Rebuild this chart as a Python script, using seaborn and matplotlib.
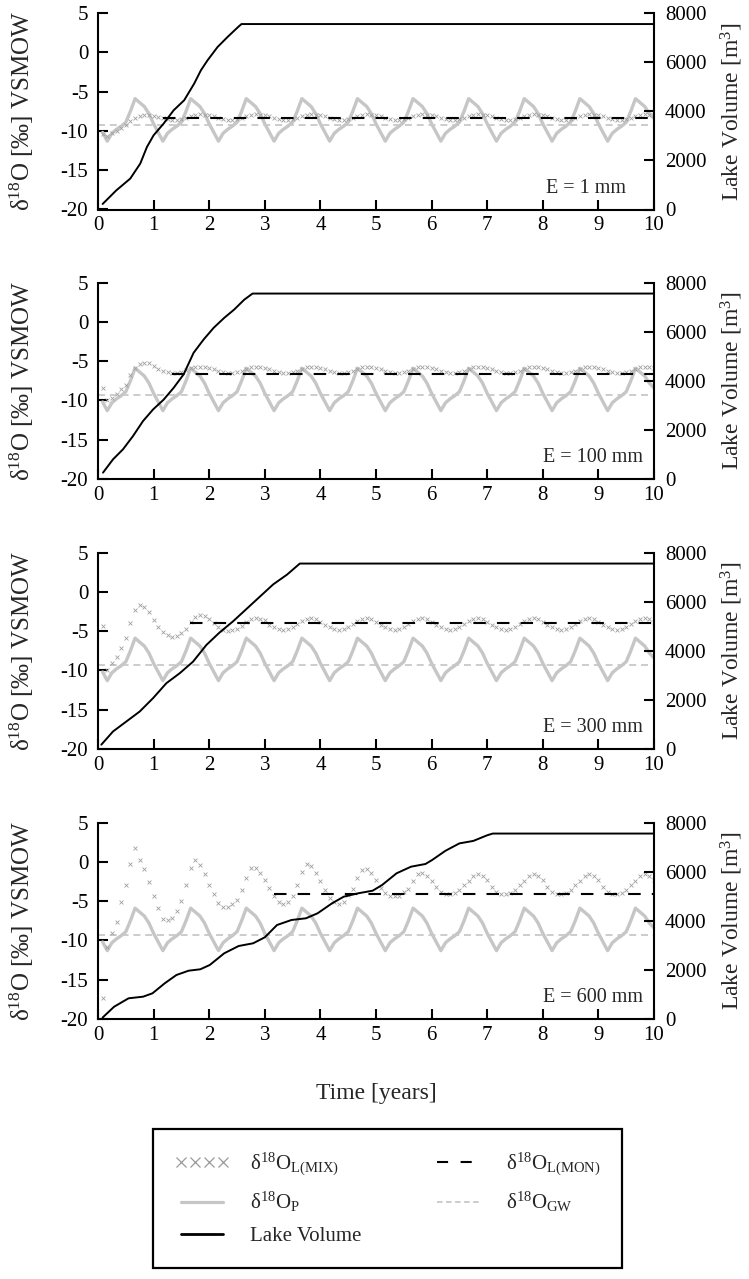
import numpy as np
import matplotlib
matplotlib.use("Agg")
import matplotlib.pyplot as plt
from matplotlib.lines import Line2D
import seaborn as sns

# ---------------- data ----------------
months = np.arange(1, 121) / 12.0          # monthly time grid [years]

# precipitation d18O (same in every run)
d18o_p = [
    -10.2, -11.3, -10.3, -9.8, -9.4, -8.9, -7.5, -5.9, -6.4, -6.9, -7.8, -9.1,
    -10.2, -11.3, -10.3, -9.8, -9.4, -8.9, -7.5, -5.9, -6.4, -6.9, -7.8, -9.1,
    -10.2, -11.3, -10.3, -9.8, -9.4, -8.9, -7.5, -5.9, -6.4, -6.9, -7.8, -9.1,
    -10.2, -11.3, -10.3, -9.8, -9.4, -8.9, -7.5, -5.9, -6.4, -6.9, -7.8, -9.1,
    -10.2, -11.3, -10.3, -9.8, -9.4, -8.9, -7.5, -5.9, -6.4, -6.9, -7.8, -9.1,
    -10.2, -11.3, -10.3, -9.8, -9.4, -8.9, -7.5, -5.9, -6.4, -6.9, -7.8, -9.1,
    -10.2, -11.3, -10.3, -9.8, -9.4, -8.9, -7.5, -5.9, -6.4, -6.9, -7.8, -9.1,
    -10.2, -11.3, -10.3, -9.8, -9.4, -8.9, -7.5, -5.9, -6.4, -6.9, -7.8, -9.1,
    -10.2, -11.3, -10.3, -9.8, -9.4, -8.9, -7.5, -5.9, -6.4, -6.9, -7.8, -9.1,
    -10.2, -11.3, -10.3, -9.8, -9.4, -8.9, -7.5, -5.9, -6.4, -6.9, -7.8, -8.4,
]
d18o_gw = -9.3

evap_labels = ["E = 1 mm", "E = 100 mm", "E = 300 mm", "E = 600 mm"]

mix_e1 = [
    -10.4, -10.6, -10.3, -10.0, -9.6, -9.2, -8.8, -8.4, -8.15, -8.0, -8.0, -8.1,
    -8.2, -8.35, -8.5, -8.6, -8.6, -8.5, -8.3, -8.1, -7.95, -7.9, -7.95, -8.0,
    -8.1, -8.3, -8.5, -8.6, -8.6, -8.5, -8.3, -8.1, -7.95, -7.9, -7.95, -8.0,
    -8.1, -8.3, -8.5, -8.6, -8.6, -8.5, -8.3, -8.1, -7.95, -7.9, -7.95, -8.0,
    -8.1, -8.3, -8.5, -8.6, -8.6, -8.5, -8.3, -8.1, -7.95, -7.9, -7.95, -8.0,
    -8.1, -8.3, -8.5, -8.6, -8.6, -8.5, -8.3, -8.1, -7.95, -7.9, -7.95, -8.0,
    -8.1, -8.3, -8.5, -8.6, -8.6, -8.5, -8.3, -8.1, -7.95, -7.9, -7.95, -8.0,
    -8.1, -8.3, -8.5, -8.6, -8.6, -8.5, -8.3, -8.1, -7.95, -7.9, -7.95, -8.0,
    -8.1, -8.3, -8.5, -8.6, -8.6, -8.5, -8.3, -8.1, -7.95, -7.9, -7.95, -8.0,
    -8.1, -8.3, -8.5, -8.6, -8.6, -8.5, -8.3, -8.1, -7.95, -7.9, -7.95, -8.0,
]
mix_e100 = [
    -8.4, -9.9, -9.7, -9.2, -8.6, -8.0, -6.8, -5.85, -5.4, -5.2, -5.3, -5.6,
    -5.95, -6.25, -6.45, -6.55, -6.5, -6.35, -6.1, -5.9, -5.75, -5.7, -5.75, -5.85,
    -6.0, -6.25, -6.45, -6.55, -6.55, -6.45, -6.2, -5.95, -5.75, -5.7, -5.75, -5.85,
    -6.0, -6.25, -6.45, -6.55, -6.55, -6.45, -6.2, -5.95, -5.75, -5.7, -5.75, -5.85,
    -6.0, -6.25, -6.45, -6.55, -6.55, -6.45, -6.2, -5.95, -5.75, -5.7, -5.75, -5.85,
    -6.0, -6.25, -6.45, -6.55, -6.55, -6.45, -6.2, -5.95, -5.75, -5.7, -5.75, -5.85,
    -6.0, -6.25, -6.45, -6.55, -6.55, -6.45, -6.2, -5.95, -5.75, -5.7, -5.75, -5.85,
    -6.0, -6.25, -6.45, -6.55, -6.55, -6.45, -6.2, -5.95, -5.75, -5.7, -5.75, -5.85,
    -6.0, -6.25, -6.45, -6.55, -6.55, -6.45, -6.2, -5.95, -5.75, -5.7, -5.75, -5.85,
    -6.0, -6.25, -6.45, -6.55, -6.55, -6.45, -6.2, -5.95, -5.75, -5.7, -5.75, -5.85,
]
mix_e300 = [
    -4.3, -9.9, -9.1, -8.3, -7.2, -5.9, -4.0, -2.3, -1.7, -1.9, -2.6, -3.6,
    -4.5, -5.1, -5.5, -5.7, -5.6, -5.3, -4.7, -3.9, -3.25, -2.95, -3.1, -3.5,
    -4.0, -4.45, -4.85, -4.95, -4.9, -4.75, -4.3, -3.8, -3.45, -3.35, -3.4, -3.65,
    -4.2, -4.5, -4.7, -4.8, -4.75, -4.5, -4.1, -3.7, -3.45, -3.35, -3.5, -3.8,
    -4.2, -4.5, -4.7, -4.8, -4.75, -4.5, -4.1, -3.7, -3.45, -3.35, -3.5, -3.8,
    -4.2, -4.5, -4.7, -4.8, -4.75, -4.5, -4.1, -3.7, -3.45, -3.35, -3.5, -3.8,
    -4.2, -4.5, -4.7, -4.8, -4.75, -4.5, -4.1, -3.7, -3.45, -3.35, -3.5, -3.8,
    -4.2, -4.5, -4.7, -4.8, -4.75, -4.5, -4.1, -3.7, -3.45, -3.35, -3.5, -3.8,
    -4.2, -4.5, -4.7, -4.8, -4.75, -4.5, -4.1, -3.7, -3.45, -3.35, -3.5, -3.8,
    -4.2, -4.5, -4.7, -4.8, -4.75, -4.5, -4.1, -3.7, -3.45, -3.35, -3.5, -3.8,
]
mix_e600 = [
    -17.3, -10.8, -9.1, -7.6, -5.1, -2.9, -0.3, 1.8, 0.2, -0.95, -2.6, -4.3,
    -5.9, -7.3, -7.4, -7.2, -6.2, -5.0, -2.9, -0.75, 0.2, -0.4, -1.55, -2.9,
    -4.1, -5.3, -5.7, -5.8, -5.4, -4.85, -3.6, -2.0, -0.8, -0.75, -1.4, -2.3,
    -3.3, -4.3, -5.1, -5.35, -5.1, -4.3, -2.9, -1.25, -0.3, -0.5, -1.4, -2.5,
    -3.6, -4.55, -5.1, -5.35, -5.15, -4.2, -3.45, -2.1, -1.05, -0.95, -1.4, -2.3,
    -3.3, -4.0, -4.35, -4.4, -4.3, -3.9, -3.4, -2.4, -1.55, -1.45, -1.8, -2.4,
    -3.2, -3.8, -4.1, -4.15, -4.0, -3.6, -3.0, -2.4, -1.8, -1.55, -1.75, -2.3,
    -3.2, -3.8, -4.1, -4.15, -4.0, -3.6, -3.0, -2.4, -1.8, -1.55, -1.75, -2.3,
    -3.2, -3.8, -4.1, -4.15, -4.0, -3.6, -3.0, -2.4, -1.8, -1.55, -1.75, -2.3,
    -3.2, -3.8, -4.1, -4.15, -4.0, -3.6, -3.0, -2.4, -1.8, -1.55, -1.75, -2.3,
]

mon_start = [1.17, 1.33, 1.66, 3.17]        # years at which the monthly-mean line starts
mon_value = [-8.4, -6.6, -4.0, -4.1]

vol_t_e1 = [0.083, 0.33, 0.58, 0.76, 0.88, 1.0, 1.18, 1.36, 1.55, 1.73, 1.85, 1.97, 2.15, 2.33, 2.52, 2.58, 10.0]
vol_v_e1 = [224, 781, 1258, 1869, 2544, 3021, 3498, 4038, 4448, 5126, 5664, 6074, 6614, 7024, 7430, 7550, 7550]
vol_t_e100 = [0.09, 0.27, 0.45, 0.63, 0.81, 0.99, 1.18, 1.36, 1.54, 1.72, 1.9, 2.08, 2.27, 2.45, 2.63, 2.78, 10.0]
vol_v_e100 = [259, 800, 1210, 1750, 2360, 2830, 3230, 3710, 4260, 5140, 5680, 6155, 6560, 6900, 7300, 7550, 7550]
vol_t_e300 = [0.06, 0.27, 0.51, 0.75, 0.99, 1.23, 1.47, 1.71, 1.95, 2.19, 2.43, 2.67, 2.91, 3.15, 3.4, 3.63, 10.0]
vol_v_e300 = [176, 714, 1120, 1526, 2070, 2680, 3085, 3558, 4237, 4750, 5200, 5700, 6200, 6700, 7100, 7550, 7550]
vol_t_e600 = [0.083, 0.29, 0.55, 0.81, 0.98, 1.2, 1.41, 1.63, 1.84, 2.01, 2.27, 2.53, 2.79, 3.0, 3.22, 3.48,
              3.74, 3.95, 4.21, 4.42, 4.68, 4.94, 5.11, 5.37, 5.63, 5.89, 6.01, 6.25, 6.5, 6.75, 7.0, 7.1, 10.0]
vol_v_e600 = [60, 500, 843, 908, 1046, 1453, 1791, 1967, 2024, 2199, 2675, 2972, 3082, 3326, 3827, 4031,
              4100, 4304, 4711, 4980, 5118, 5224, 5456, 5932, 6201, 6311, 6474, 6850, 7150, 7250, 7480, 7550, 7550]

mix_series = [mix_e1, mix_e100, mix_e300, mix_e600]
vol_series = [(vol_t_e1, vol_v_e1), (vol_t_e100, vol_v_e100),
              (vol_t_e300, vol_v_e300), (vol_t_e600, vol_v_e600)]

x_ticks = list(range(0, 11))
left_ticks = [-20, -15, -10, -5, 0, 5]
right_ticks = [0, 2000, 4000, 6000, 8000]

# ---------------- style ----------------
sns.set_theme(style="ticks")
plt.rcParams["font.family"] = ["Liberation Serif", "DejaVu Serif"]
plt.rcParams["mathtext.fontset"] = "custom"
plt.rcParams["mathtext.rm"] = "Liberation Serif"
plt.rcParams["mathtext.it"] = "Liberation Serif:italic"
plt.rcParams["mathtext.bf"] = "Liberation Serif:bold"
plt.rcParams["mathtext.default"] = "regular"
plt.rcParams["lines.scale_dashes"] = False

C_P = "#c6c6c6"
C_GW = "#c8c8c8"
C_MIX = "#a0a0a0"

fig = plt.figure(figsize=(7.49, 12.79), dpi=100)
W, H = 749.0, 1279.0
ax_left = 98 / W
ax_w = 556 / W
ax_h = 196.5 / H
bottoms_px = [209.5, 479, 749, 1019]
evap_x = [0.95, 0.98, 0.98, 0.98]

for i in range(4):
    b = 1 - bottoms_px[i] / H
    ax = fig.add_axes([ax_left, b, ax_w, ax_h])
    # precipitation
    sns.lineplot(x=months, y=d18o_p, ax=ax, color=C_P, lw=2.4, errorbar=None,
                 sort=False, legend=False, zorder=2)
    # groundwater
    sns.lineplot(x=[0, 10], y=[d18o_gw, d18o_gw], ax=ax, color=C_GW, lw=1.3,
                 linestyle=(0, (5, 3.5)), errorbar=None, legend=False, zorder=2)
    # fully mixed lake
    sns.scatterplot(x=months, y=mix_series[i], ax=ax, marker="x", s=8, color=C_MIX,
                    linewidth=0.6, legend=False, zorder=3)
    # monthly mean lake
    sns.lineplot(x=[mon_start[i], 10], y=[mon_value[i], mon_value[i]], ax=ax, color="black",
                 lw=1.5, linestyle=(0, (9, 8)), errorbar=None, legend=False, zorder=4)

    ax.set_xlim(0, 10)
    ax.set_ylim(-20, 5)
    ax.set_xticks(x_ticks)
    ax.set_yticks(left_ticks)
    ax.set_xticklabels([str(v) for v in x_ticks])
    ax.set_yticklabels([str(v) for v in left_ticks])
    ax.tick_params(axis="both", direction="in", length=7, width=1.5, labelsize=15,
                   colors="black", top=False, right=False)
    ax.tick_params(axis="y", pad=7)
    ax.tick_params(axis="x", pad=5)
    for s in ["top", "right"]:
        ax.spines[s].set_visible(False)
    for s in ["left", "bottom"]:
        ax.spines[s].set_linewidth(1.5)
        ax.spines[s].set_color("black")
    ax.set_ylabel("δ$^{18}$O [‰] VSMOW", fontsize=18)
    ax.yaxis.set_label_coords(-0.112, 0.5)
    ax.text(evap_x[i], 0.085, evap_labels[i], transform=ax.transAxes, ha="right",
            va="baseline", fontsize=14.5)

    # lake volume on the secondary axis
    ax2 = ax.twinx()
    vt, vv = vol_series[i]
    sns.lineplot(x=vt, y=vv, ax=ax2, color="black", lw=1.4, errorbar=None,
                 sort=False, legend=False)
    ax2.set_ylim(0, 8000)
    ax2.set_xlim(0, 10)
    ax2.set_yticks(right_ticks)
    ax2.set_yticklabels([str(v) for v in right_ticks])
    ax2.tick_params(axis="y", direction="in", length=7, width=1.5, labelsize=15,
                    pad=8, colors="black")
    for s in ["top", "left", "bottom"]:
        ax2.spines[s].set_visible(False)
    ax2.spines["right"].set_linewidth(1.5)
    ax2.spines["right"].set_color("black")
    ax2.set_ylabel("Lake Volume [m$^3$]", fontsize=17)
    ax2.yaxis.set_label_coords(1.116, 0.5)

    if i == 3:
        ax.set_xlabel("Time [years]", fontsize=17)
        ax.xaxis.set_label_coords(0.5, -0.325)

# ---------------- legend ----------------
h_mix = Line2D([], [], marker="x", linestyle="", color="#9a9a9a", markersize=7, mew=0.9)
h_p = Line2D([], [], color=C_P, lw=2.3)
h_vol = Line2D([], [], color="black", lw=2.0)
h_mon = Line2D([], [], color="black", lw=1.5, linestyle=(0, (8, 9)))
h_gw = Line2D([], [], color=C_GW, lw=1.3, linestyle=(0, (4, 2.5)))

leg = fig.legend(
    handles=[h_mix, h_p, h_vol, h_mon, h_gw],
    labels=["δ$^{18}$O$_{L(MIX)}$", "δ$^{18}$O$_{P}$", "Lake Volume",
            "δ$^{18}$O$_{L(MON)}$", "δ$^{18}$O$_{GW}$"],
    ncol=2, loc="upper left", mode="expand",
    bbox_to_anchor=(153 / W, 1 - 1130 / H, 469 / W, 0.001),
    numpoints=4, fontsize=15, handlelength=2.6, handletextpad=1.0,
    labelspacing=0.6, borderpad=1.05, borderaxespad=0.0,
    fancybox=False, framealpha=1, edgecolor="black",
)
leg.get_frame().set_linewidth(1.6)

fig.savefig("out.png", dpi=100)
